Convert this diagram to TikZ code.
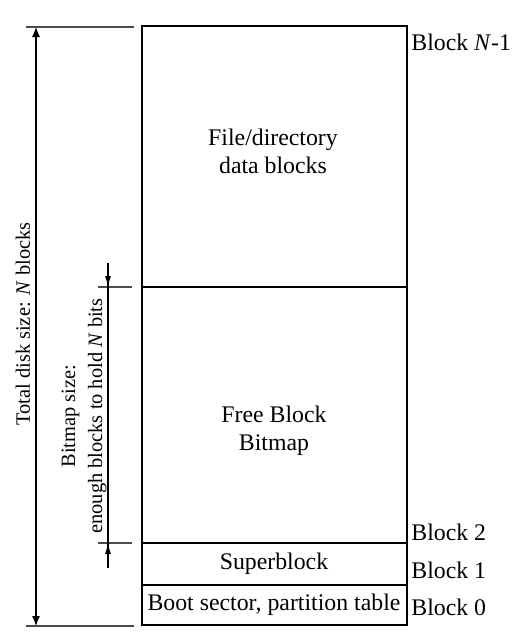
\documentclass[tikz,border=0pt]{standalone}
\usepackage{fontspec}
\setmainfont{Liberation Serif}
\usetikzlibrary{arrows.meta}

\tikzset{
    part/.style={line width=0.8pt},
    extline/.style={black!70, line width=0.6pt},
    totalarrow/.style={line width=0.6pt, {Latex[length=5pt,width=4pt]}-{Latex[length=5pt,width=4pt]}},
    bitarrow/.style={line width=0.6pt, -{Latex[length=5.5pt,width=3pt]}},
    lbl/.style={font=\fontsize{11.9}{14}\selectfont, align=center, inner sep=0pt},
    sidelbl/.style={font=\fontsize{10.2}{13.5}\selectfont, align=center, inner sep=0pt, rotate=90}
}

\begin{document}
\begin{tikzpicture}[x=0.5pt, y=-0.5pt]
    \useasboundingbox (0,0) rectangle (524,634);

    % Disk layout
    \draw[part] (142,26) rectangle (407,625);
    \draw[part] (142,287) -- (407,287);
    \draw[part] (142,543) -- (407,543);
    \draw[part] (142,585) -- (407,585);

    % Contents
    \node[lbl] (data) at (273,151) {File/directory\\data blocks};
    \node[lbl] (bitmap) at (274,431) {Free Block\\Bitmap};
    \node[lbl] (super) at (274,564) {Superblock};
    \node[lbl] (boot) at (274,605) {Boot sector, partition table};

    % Block numbers
    \foreach \name/\y/\text in {bN/42/Block \textit{N}-1, b2/532/Block 2, b1/570/Block 1, b0/607/Block 0} {
        \node[lbl, anchor=west] (\name) at (411,\y) {\text};
    }

    % Total size
    \coordinate (ttop) at (36,27);
    \coordinate (tbot) at (36,626);
    \draw[extline] (26,27) -- (134,27);
    \draw[extline] (26,626) -- (134,626);
    \draw[totalarrow] (ttop) -- (tbot);
    \node[sidelbl] (total) at (23,324) {Total disk size: \textit{N} blocks};

    % Bitmap size
    \coordinate (mtop) at (108,287);
    \coordinate (mbot) at (108,543);
    \coordinate (mtopend) at (108,263);
    \coordinate (mbotend) at (108,568);
    \draw[extline] (98,287) -- (132,287);
    \draw[extline] (98,543) -- (132,543);
    \draw[line width=0.6pt] (mtopend) -- (mbotend);
    \draw[bitarrow] (mtopend) -- (mtop);
    \draw[bitarrow] (mbotend) -- (mbot);
    \node[sidelbl] (bsize) at (84,416) {Bitmap size:\\enough blocks to hold \textit{N} bits};
\end{tikzpicture}
\end{document}
